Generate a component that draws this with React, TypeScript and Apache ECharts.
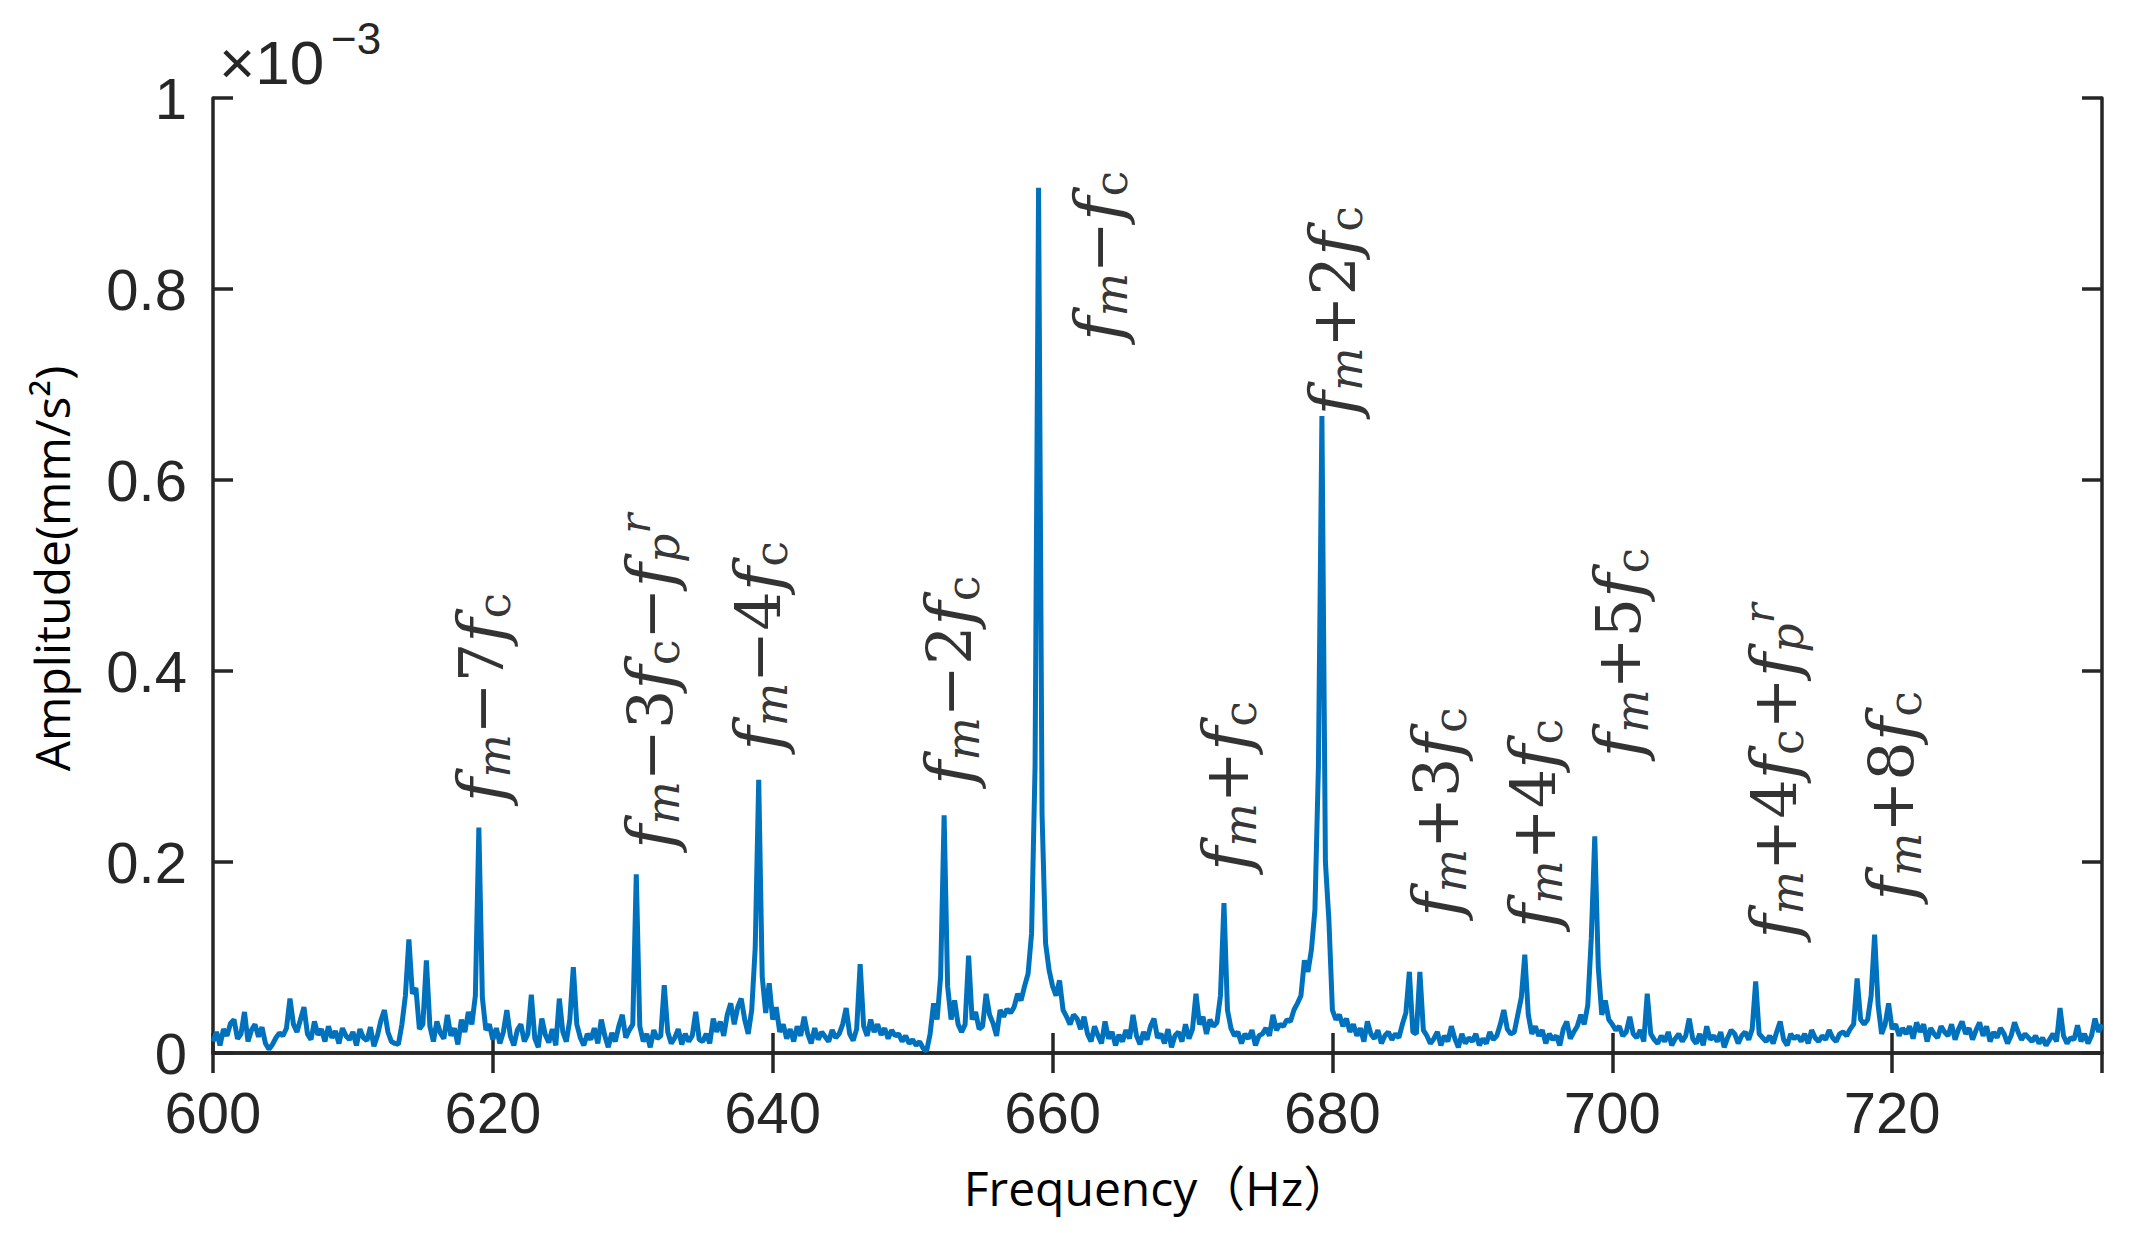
import * as echarts from "echarts";
import { useEffect, useRef } from "react";

const FREQ_START = 600;
const FREQ_STEP = 0.25;

// amplitude in units of 1e-3 mm/s², one value per 0.25 Hz, 20 values (5 Hz) per row
const amplitude = [
	0.012, 0.022, 0.008, 0.025, 0.018, 0.031, 0.035, 0.015, 0.02, 0.043, 0.012, 0.024, 0.03, 0.017, 0.027, 0.01, 0.004, 0.009, 0.016, 0.021, // 600
	0.018, 0.026, 0.057, 0.03, 0.022, 0.035, 0.048, 0.02, 0.014, 0.033, 0.019, 0.025, 0.012, 0.028, 0.016, 0.023, 0.01, 0.026, 0.018, 0.014, // 605
	0.022, 0.008, 0.025, 0.016, 0.013, 0.027, 0.007, 0.018, 0.034, 0.045, 0.022, 0.012, 0.01, 0.009, 0.03, 0.06, 0.119, 0.062, 0.068, 0.025, // 610
	0.03, 0.097, 0.028, 0.012, 0.033, 0.021, 0.015, 0.04, 0.018, 0.026, 0.009, 0.035, 0.022, 0.043, 0.03, 0.06, 0.236, 0.058, 0.024, 0.03, // 615
	0.014, 0.026, 0.01, 0.022, 0.045, 0.018, 0.008, 0.024, 0.03, 0.012, 0.02, 0.061, 0.015, 0.006, 0.036, 0.019, 0.011, 0.025, 0.008, 0.057, // 620
	0.022, 0.012, 0.035, 0.09, 0.03, 0.016, 0.008, 0.02, 0.014, 0.026, 0.01, 0.035, 0.018, 0.006, 0.021, 0.012, 0.028, 0.04, 0.016, 0.024, // 625
	0.03, 0.187, 0.028, 0.012, 0.02, 0.006, 0.024, 0.015, 0.018, 0.071, 0.022, 0.01, 0.016, 0.025, 0.009, 0.02, 0.012, 0.018, 0.043, 0.014, // 630
	0.012, 0.02, 0.01, 0.036, 0.022, 0.033, 0.018, 0.04, 0.052, 0.03, 0.048, 0.057, 0.035, 0.02, 0.045, 0.11, 0.286, 0.08, 0.042, 0.073, // 635
	0.035, 0.048, 0.022, 0.03, 0.015, 0.025, 0.012, 0.028, 0.018, 0.038, 0.02, 0.01, 0.026, 0.014, 0.022, 0.017, 0.012, 0.024, 0.016, 0.02, // 640
	0.03, 0.047, 0.02, 0.013, 0.025, 0.093, 0.028, 0.018, 0.035, 0.022, 0.03, 0.019, 0.026, 0.015, 0.024, 0.018, 0.02, 0.012, 0.018, 0.01, // 645
	0.014, 0.008, 0.012, 0.005, 0.002, 0.02, 0.052, 0.035, 0.08, 0.249, 0.07, 0.035, 0.055, 0.03, 0.022, 0.03, 0.102, 0.035, 0.043, 0.025, // 650
	0.028, 0.062, 0.04, 0.031, 0.018, 0.045, 0.038, 0.046, 0.042, 0.048, 0.062, 0.055, 0.07, 0.083, 0.125, 0.3, 0.906, 0.25, 0.115, 0.087, // 655
	0.07, 0.06, 0.076, 0.045, 0.038, 0.03, 0.04, 0.036, 0.025, 0.038, 0.02, 0.012, 0.028, 0.018, 0.01, 0.033, 0.015, 0.022, 0.008, 0.019, // 660
	0.012, 0.024, 0.015, 0.04, 0.018, 0.009, 0.022, 0.014, 0.028, 0.036, 0.016, 0.02, 0.01, 0.025, 0.006, 0.018, 0.022, 0.012, 0.03, 0.015, // 665
	0.025, 0.062, 0.03, 0.038, 0.02, 0.035, 0.028, 0.032, 0.06, 0.157, 0.045, 0.026, 0.018, 0.022, 0.01, 0.02, 0.015, 0.024, 0.008, 0.018, // 670
	0.02, 0.026, 0.018, 0.04, 0.024, 0.03, 0.028, 0.035, 0.033, 0.045, 0.052, 0.06, 0.097, 0.085, 0.108, 0.15, 0.3, 0.667, 0.2, 0.139, // 675
	0.045, 0.035, 0.04, 0.028, 0.036, 0.022, 0.03, 0.018, 0.026, 0.012, 0.033, 0.02, 0.015, 0.024, 0.01, 0.018, 0.022, 0.014, 0.02, 0.016, // 680
	0.03, 0.042, 0.085, 0.022, 0.02, 0.085, 0.024, 0.018, 0.01, 0.015, 0.022, 0.008, 0.018, 0.012, 0.028, 0.015, 0.006, 0.02, 0.01, 0.016, // 685
	0.012, 0.02, 0.008, 0.015, 0.01, 0.022, 0.014, 0.018, 0.03, 0.045, 0.025, 0.02, 0.022, 0.04, 0.058, 0.103, 0.04, 0.02, 0.028, 0.018, // 690
	0.024, 0.01, 0.02, 0.014, 0.018, 0.008, 0.025, 0.033, 0.015, 0.022, 0.028, 0.04, 0.03, 0.05, 0.12, 0.227, 0.09, 0.04, 0.055, 0.035, // 695
	0.03, 0.024, 0.028, 0.018, 0.022, 0.038, 0.02, 0.016, 0.024, 0.012, 0.062, 0.02, 0.014, 0.01, 0.018, 0.012, 0.022, 0.008, 0.015, 0.02, // 700
	0.012, 0.018, 0.036, 0.015, 0.01, 0.02, 0.008, 0.028, 0.014, 0.018, 0.012, 0.022, 0.006, 0.016, 0.024, 0.02, 0.01, 0.018, 0.022, 0.014, // 705
	0.025, 0.075, 0.02, 0.016, 0.012, 0.018, 0.01, 0.022, 0.033, 0.014, 0.008, 0.02, 0.015, 0.018, 0.012, 0.02, 0.01, 0.024, 0.016, 0.012, // 710
	0.018, 0.014, 0.024, 0.016, 0.012, 0.02, 0.022, 0.018, 0.025, 0.03, 0.078, 0.035, 0.03, 0.035, 0.06, 0.124, 0.05, 0.02, 0.03, 0.052, // 715
	0.025, 0.03, 0.018, 0.026, 0.02, 0.028, 0.015, 0.032, 0.022, 0.03, 0.012, 0.026, 0.02, 0.016, 0.028, 0.022, 0.018, 0.03, 0.014, 0.025, // 720
	0.033, 0.02, 0.026, 0.014, 0.024, 0.032, 0.018, 0.028, 0.012, 0.022, 0.016, 0.026, 0.02, 0.01, 0.018, 0.032, 0.022, 0.014, 0.02, 0.016, // 725
	0.012, 0.018, 0.01, 0.016, 0.008, 0.014, 0.02, 0.012, 0.047, 0.018, 0.01, 0.016, 0.014, 0.029, 0.012, 0.02, 0.01, 0.018, 0.036, 0.022, // 730
	0.03, // 735
];

// peak annotations: where the rotated label starts (bottom of text)
const noteFreq = [619.2, 631.3, 639.0, 652.7, 663.3, 672.5, 680.1, 687.5, 694.4, 700.5, 711.6, 720.0];
const noteAmp = [0.262, 0.213, 0.316, 0.28, 0.745, 0.19, 0.667, 0.142, 0.13, 0.309, 0.119, 0.159];
const noteText = [
	"{f|f}{s|m}{o|−7}{f|f}{c|c}",
	"{f|f}{s|m}{o|−3}{f|f}{c|c}{o|−}{f|f}{s|p}{r|r}",
	"{f|f}{s|m}{o|−4}{f|f}{c|c}",
	"{f|f}{s|m}{o|−2}{f|f}{c|c}",
	"{f|f}{s|m}{o|−}{f|f}{c|c}",
	"{f|f}{s|m}{o|+}{f|f}{c|c}",
	"{f|f}{s|m}{o|+2}{f|f}{c|c}",
	"{f|f}{s|m}{o|+3}{f|f}{c|c}",
	"{f|f}{s|m}{o|+4}{f|f}{c|c}",
	"{f|f}{s|m}{o|+5}{f|f}{c|c}",
	"{f|f}{s|m}{o|+4}{f|f}{c|c}{o|+}{f|f}{s|p}{r|r}",
	"{f|f}{s|m}{o|+8}{f|f}{c|c}",
];

const AXIS_COLOR = "#262626";
const LINE_COLOR = "#0072BD";

export default function App() {
	const ref = useRef<HTMLDivElement>(null);
	useEffect(() => {
		if (!ref.current) return;
		const chart = echarts.init(ref.current, undefined, { renderer: "svg" });
		const spectrum = amplitude.map((v, i) => [FREQ_START + i * FREQ_STEP, v]);
		const notes = noteFreq.map((f, i) => [f, noteAmp[i]]);
		const axisLine = { lineStyle: { color: AXIS_COLOR, width: 3.5 } };
		const axisTick = { inside: true, length: 20, lineStyle: { color: AXIS_COLOR, width: 3.5 } };
		const tickFont = { fontFamily: "Liberation Sans", fontSize: 58, color: AXIS_COLOR };
		const serif = "DejaVu Serif";
		chart.setOption({
			animation: false,
			grid: { left: 213, right: 38, top: 98, bottom: 180 },
			xAxis: [
				{
					type: "value",
					min: 600,
					max: 735,
					interval: 20,
					name: "Frequency（Hz）",
					nameLocation: "middle",
					nameGap: 110,
					nameTextStyle: { fontFamily: "Open Sans, Noto Sans CJK SC", fontSize: 48, color: "#000" },
					axisLine,
					axisTick,
					splitLine: { show: false },
					axisLabel: { ...tickFont, margin: 30, showMaxLabel: false },
				},
				{
					type: "value",
					position: "top",
					min: 600,
					max: 735,
					interval: 20,
					axisLine,
					axisTick,
					splitLine: { show: false },
					axisLabel: { show: false },
				},
			],
			yAxis: [
				{
					type: "value",
					min: 0,
					max: 1,
					interval: 0.2,
					name: "Amplitude(mm/s²)",
					nameLocation: "middle",
					nameRotate: 90,
					nameGap: 138,
					nameTextStyle: { fontFamily: "Open Sans", fontSize: 48, color: "#000", padding: [0, 0, 0, 14] },
					axisLine,
					axisTick,
					splitLine: { show: false },
					axisLabel: { ...tickFont, margin: 26 },
				},
				{
					type: "value",
					position: "right",
					min: 0,
					max: 1,
					interval: 0.2,
					axisLine,
					axisTick,
					splitLine: { show: false },
					axisLabel: { show: false },
				},
			],
			graphic: [
				{
					type: "text",
					x: 219,
					y: 62,
					style: { text: "×10", fontFamily: "Liberation Sans", fontSize: 62, fill: AXIS_COLOR, verticalAlign: "middle" },
				},
				{
					type: "text",
					x: 331,
					y: 38,
					style: { text: "−3", fontFamily: "Liberation Sans", fontSize: 44, fill: AXIS_COLOR, verticalAlign: "middle" },
				},
			],
			series: [
				{
					type: "line",
					data: spectrum,
					showSymbol: false,
					lineStyle: { color: LINE_COLOR, width: 5 },
					z: 3,
				},
				{
					type: "scatter",
					data: notes,
					symbolSize: 1,
					itemStyle: { color: "rgba(0,0,0,0)" },
					z: 4,
					label: {
						show: true,
						position: [0, 0],
						rotate: 90,
						align: "left",
						verticalAlign: "middle",
						color: "#000",
						formatter: (p: any) => noteText[p.dataIndex],
						rich: {
							f: { fontFamily: serif, fontStyle: "italic", fontSize: 66, lineHeight: 72, verticalAlign: "middle", color: "#000" },
							o: { fontFamily: serif, fontSize: 62, lineHeight: 72, verticalAlign: "middle", color: "#000" },
							s: { fontFamily: serif, fontStyle: "italic", fontSize: 46, lineHeight: 30, verticalAlign: "bottom", color: "#000" },
							c: { fontFamily: serif, fontSize: 46, lineHeight: 30, verticalAlign: "bottom", color: "#000" },
							r: { fontFamily: serif, fontStyle: "italic", fontSize: 42, lineHeight: 38, verticalAlign: "top", color: "#000" },
						},
					},
				},
			],
		});
		return () => chart.dispose();
	}, []);
	return (
		<div
			ref={ref}
			style={{ position: "fixed", left: 0, top: 0, width: 2140, height: 1233, background: "#fff" }}
		/>
	);
}
